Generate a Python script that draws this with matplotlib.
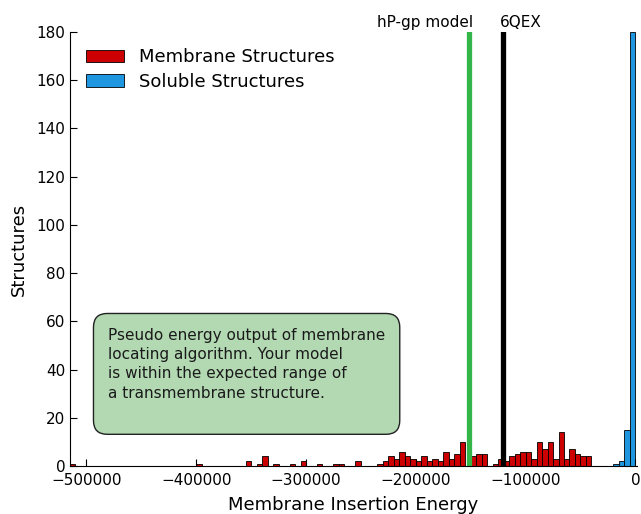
import numpy as np
import matplotlib
matplotlib.use("Agg")
import matplotlib.pyplot as plt

# histogram counts, bins of 5000
bin_width = 5000
membrane_edges = np.arange(-515000, -35000 + 1, bin_width)
membrane_counts = [1, 0, 0, 0, 0, 0, 0, 0, 0, 0,
                   0, 0, 0, 0, 0, 0, 0, 0, 0, 0,
                   0, 0, 0, 1, 0, 0, 0, 0, 0, 0,
                   0, 0, 2, 0, 1, 4, 0, 1, 0, 0,
                   1, 0, 2, 0, 0, 1, 0, 0, 1, 1,
                   0, 0, 2, 0, 0, 0, 1, 2, 4, 3,
                   6, 4, 3, 2, 4, 2, 3, 2, 6, 3,
                   5, 10, 0, 4, 5, 5, 0, 1, 3, 2,
                   4, 5, 6, 6, 3, 10, 7, 10, 3, 14,
                   3, 7, 5, 4, 4, 0]
soluble_edges = np.arange(-20000, 0 + 1, bin_width)
soluble_counts = [1, 2, 15, 180]

model_energy = -151500
ref_energy = -120500
ref_name = "6QEX"
model_name = "hP-gp model"

note = ("Pseudo energy output of membrane\n"
        "locating algorithm. Your model\n"
        "is within the expected range of\n"
        "a transmembrane structure.\n ")

fig = plt.figure(figsize=(6.41, 5.14), dpi=100)
ax = fig.add_axes([70 / 641, 48 / 514, 567 / 641, 434 / 514])

ax.hist(membrane_edges[:-1], bins=membrane_edges, weights=membrane_counts,
        color="#cc0000", edgecolor="black", linewidth=0.6,
        label="Membrane Structures")
ax.hist(soluble_edges[:-1], bins=soluble_edges, weights=soluble_counts,
        color="#1e96e0", edgecolor="black", linewidth=0.6,
        label="Soluble Structures")

ax.axvline(model_energy, color="#33b54a", linewidth=3.8)
ax.axvline(ref_energy, color="black", linewidth=3.8)
ax.text(model_energy + 3500, 181, model_name, ha="right", va="bottom", fontsize=11)
ax.text(ref_energy - 3000, 181, ref_name, ha="left", va="bottom", fontsize=11)

ax.set_xlim(-515000, 1500)
ax.set_ylim(0, 180)
ax.set_yticks(np.arange(0, 181, 20))
ax.set_xticks(np.arange(-500000, 1, 100000))
ax.spines["top"].set_visible(False)
ax.spines["right"].set_visible(False)
ax.tick_params(direction="in", length=5, labelsize=11, top=False, right=False)
ax.tick_params(axis="x", pad=5)
ax.set_xlabel("Membrane Insertion Energy", fontsize=13, labelpad=6)
ax.set_ylabel("Structures", fontsize=13, labelpad=6)

ax.legend(loc="upper left", frameon=False, fontsize=13, handlelength=2.1,
          borderaxespad=0.5, labelspacing=0.35)

ax.text(0.067, 0.318, note, transform=ax.transAxes, fontsize=11,
        ha="left", va="top", color="#1a1a1a", linespacing=1.35,
        bbox=dict(boxstyle="round,pad=0.95,rounding_size=0.9",
                  facecolor="#b3d9b3", edgecolor="#222222", linewidth=1.0))

fig.savefig("out.png", dpi=100)
